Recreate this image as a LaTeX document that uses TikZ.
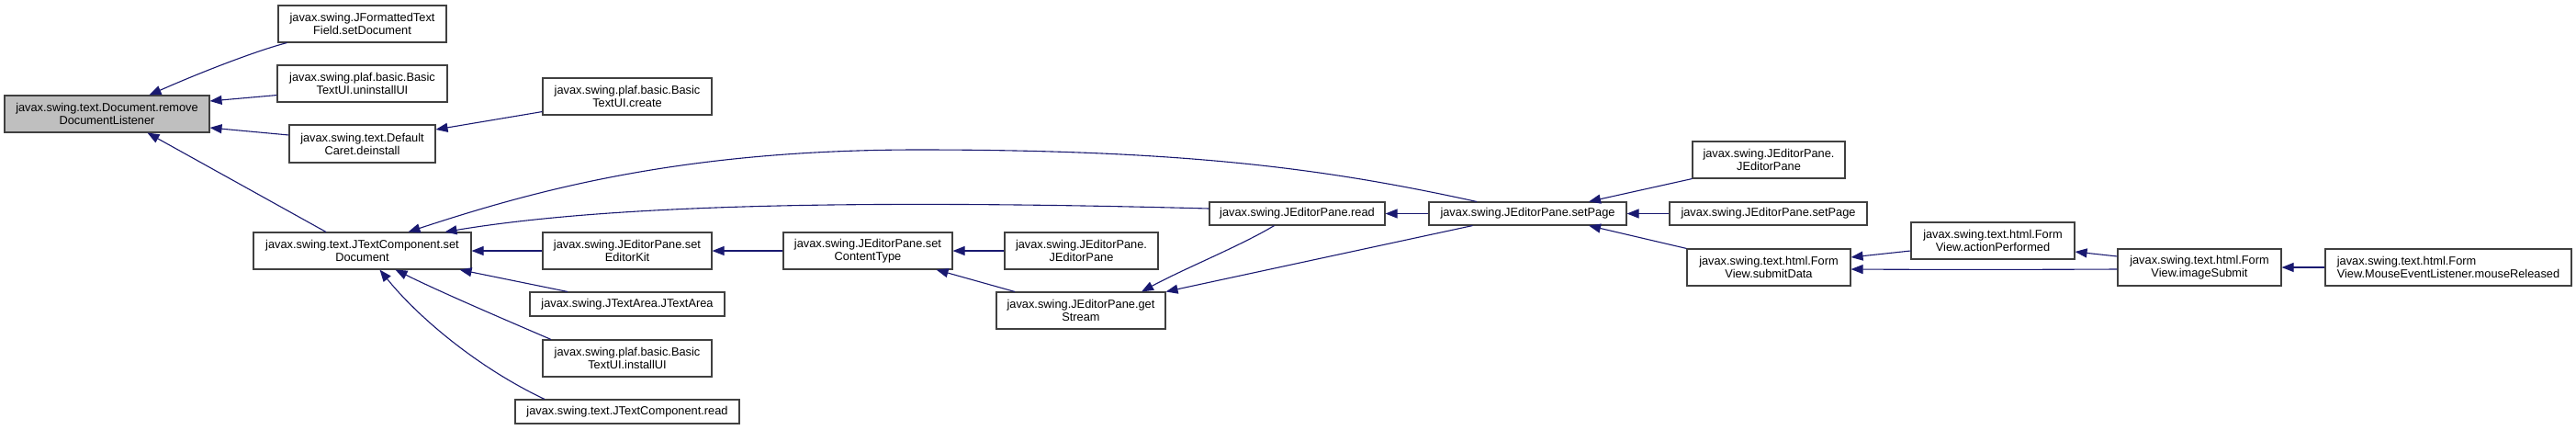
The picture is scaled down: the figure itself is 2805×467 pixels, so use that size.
\documentclass[tikz,border=0pt]{standalone}
\usepackage{fontspec}
\setmainfont{Liberation Sans}
\usetikzlibrary{arrows.meta}
\definecolor{edgeblue}{HTML}{191970}
\definecolor{rootfill}{HTML}{BFBFBF}
\definecolor{borderc}{HTML}{404040}
\begin{document}
\begin{tikzpicture}[x=1pt,y=-1pt,
  box/.style={draw=borderc, line width=1.1pt, rectangle, inner sep=0pt, align=center,
    minimum height=40pt, font=\fontsize{12.8}{14}\selectfont, text=black},
  edge/.style={draw=edgeblue, line width=1.1pt, -{Triangle[length=13pt,width=10pt]}},
]
\useasboundingbox (0,0) rectangle (2805,467);

\node[box, fill=rootfill, minimum width=223pt] (root) at (116.5,124) {javax.swing.text.Document.remove\\DocumentListener};
\node[box, minimum width=183pt] (ftf) at (394.5,26) {javax.swing.JFormattedText\\Field.setDocument};
\node[box, minimum width=185pt] (uninst) at (394.5,91) {javax.swing.plaf.basic.Basic\\TextUI.uninstallUI};
\node[box, minimum width=159pt, minimum height=41pt] (deinst) at (394.5,156.5) {javax.swing.text.Default\\Caret.deinstall};
\node[box, minimum width=237pt] (setdoc) at (394.5,273) {javax.swing.text.JTextComponent.set\\Document};
\node[box, minimum width=184pt] (create) at (683,105) {javax.swing.plaf.basic.Basic\\TextUI.create};
\node[box, minimum width=184pt] (kit) at (683,273) {javax.swing.JEditorPane.set\\EditorKit};
\node[box, minimum width=212pt, minimum height=26pt] (area) at (683,331) {javax.swing.JTextArea.JTextArea};
\node[box, minimum width=184pt] (install) at (683,390) {javax.swing.plaf.basic.Basic\\TextUI.installUI};
\node[box, minimum width=244pt, minimum height=26pt] (tcread) at (683,448) {javax.swing.text.JTextComponent.read};
\node[box, minimum width=184pt] (ctype) at (945,273) {javax.swing.JEditorPane.set\\ContentType};
\node[box, minimum width=167pt] (epa) at (1177.5,273) {javax.swing.JEditorPane.\\JEditorPane};
\node[box, minimum width=184pt] (stream) at (1177,338) {javax.swing.JEditorPane.get\\Stream};
\node[box, minimum width=191pt, minimum height=25pt] (epread) at (1412.5,232.5) {javax.swing.JEditorPane.read};
\node[box, minimum width=215pt, minimum height=25pt] (setpage) at (1663.5,232.5) {javax.swing.JEditorPane.setPage};
\node[box, minimum width=166pt] (epb) at (1926,174) {javax.swing.JEditorPane.\\JEditorPane};
\node[box, minimum width=215pt, minimum height=25pt] (setpageb) at (1925.5,232.5) {javax.swing.JEditorPane.setPage};
\node[box, minimum width=178pt] (submit) at (1926,291) {javax.swing.text.html.Form\\View.submitData};
\node[box, minimum width=178pt] (action) at (2170,262) {javax.swing.text.html.Form\\View.actionPerformed};
\node[box, minimum width=178pt] (image) at (2395,291) {javax.swing.text.html.Form\\View.imageSubmit};
\node[box, minimum width=268pt, align=left] (mouse) at (2666,291) {javax.swing.text.html.Form\\View.MouseEventListener.mouseReleased};

% edges: caller -> callee
\draw[edge] ([xshift=10pt]ftf.south west) .. controls (280,55) and (220,78) .. ([xshift=46pt]root.north);
\draw[edge] ([yshift=8pt]uninst.south west) -- ([yshift=14pt]root.east);
\draw[edge] ([yshift=9.5pt]deinst.west) -- ([yshift=-15pt]root.east);
\draw[edge] ([yshift=4pt]create.south west) -- ([yshift=15.5pt]deinst.east);
\draw[edge] ([xshift=-39.5pt]setdoc.north) -- ([xshift=44pt]root.south);
\draw[edge] (kit.west) -- (setdoc.east);
\draw[edge] ([xshift=-65pt]area.north) -- ([xshift=-13pt]setdoc.south east);
\draw[edge] ([xshift=-83pt]install.north) .. controls (550,348) and (480,318) .. ([xshift=36pt]setdoc.south);
\draw[edge] ([xshift=-90pt]tcread.north) .. controls (520,400) and (455,345) .. ([xshift=19pt]setdoc.south);
\draw[edge] ([xshift=-55.5pt]setpage.north) .. controls (1450,185) and (1300,163) .. (1000,163) .. controls (740,163) and (580,208) .. ([xshift=50pt]setdoc.north);
\draw[edge] ([yshift=5.5pt]epread.west) .. controls (900,216) and (650,225) .. ([xshift=90pt]setdoc.north);
\draw[edge] (ctype.west) -- (kit.east);
\draw[edge] (epa.west) -- (ctype.east);
\draw[edge] ([xshift=-72pt]stream.north) -- ([xshift=-18pt]ctype.south east);
\draw[edge] ([xshift=-25pt]epread.south) .. controls (1350,268) and (1290,292) .. ([xshift=66pt]stream.north);
\draw[edge] ([xshift=-60pt]setpage.south) -- (stream.north east);
\draw[edge] (setpage.west) -- (epread.east);
\draw[edge] (epb.south west) -- ([xshift=66.5pt]setpage.north);
\draw[edge] (setpageb.west) -- (setpage.east);
\draw[edge] (submit.north west) -- ([xshift=66.5pt]setpage.south);
\draw[edge] ([yshift=-11pt]action.west) -- ([yshift=11pt]submit.east);
\draw[edge] ([yshift=-2pt]image.west) .. controls (2200,293.5) and (2100,293.5) .. ([yshift=-2pt]submit.east);
\draw[edge] ([yshift=12pt]image.west) -- ([yshift=-12pt]action.east);
\draw[edge] (mouse.west) -- (image.east);
\end{tikzpicture}
\end{document}
